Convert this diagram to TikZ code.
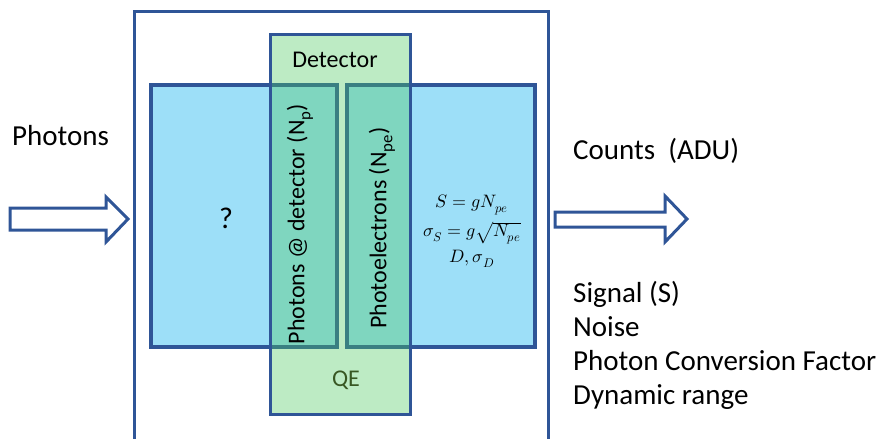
\documentclass[tikz,border=0pt]{standalone}
\usepackage{fontspec}
\usepackage{unicode-math}
\setmainfont{Carlito}
\setmathfont{Latin Modern Math}
\definecolor{frameblue}{RGB}{47,85,151}
\definecolor{boxblue}{RGB}{157,223,248}
\definecolor{detgreen}{RGB}{77,201,96}
\definecolor{qegreen}{RGB}{56,87,35}
\tikzset{
  bluebox/.style={draw=frameblue, line width=4pt, fill=boxblue, inner sep=0pt},
  detbox/.style={draw=frameblue, line width=3pt, fill=detgreen, fill opacity=0.37, draw opacity=1, text opacity=1, inner sep=0pt},
  blockarrow/.style={draw=frameblue, line width=3pt, fill=white, line join=miter},
  bigtxt/.style={font=\fontsize{29}{34}\selectfont, inner sep=0pt},
  midtxt/.style={font=\fontsize{24}{28}\selectfont, inner sep=0pt},
  mathtxt/.style={font=\fontsize{18}{22}\selectfont, inner sep=0pt}
}
\begin{document}
\begin{tikzpicture}[x=1pt,y=-1pt]
\useasboundingbox (0,0) rectangle (884,439);
% outer frame
\draw[frameblue, line width=3pt] (134,450) -- (134,11) -- (548,11) -- (548,450);
% blue boxes
\node[bluebox, minimum width=186pt, minimum height=262pt] (left) at (244,216) {};
\node[bluebox, minimum width=188pt, minimum height=262pt] (right) at (441,216) {};
% detector
\node[detbox, minimum width=140pt, minimum height=380pt] (det) at (340,224) {};
% texts
\node[midtxt, anchor=center] (dettxt) at (335,60) {Detector};
\node[midtxt, anchor=center, text=qegreen] (qe) at (346,380) {QE};
\node[font=\fontsize{30}{34}\selectfont, inner sep=0pt] (q) at (226,218) {?};
\node[midtxt, rotate=90] (np) at (300,224) {Photons @ detector (N\textsubscript{p})};
\node[midtxt, rotate=90] (npe) at (382,228) {Photoelectrons (N\textsubscript{pe})};
\node[mathtxt] (f1) at (472,205) {$S = gN_{pe}$};
\node[mathtxt] (f2) at (472,233) {$\sigma_S = g\sqrt{N_{pe}}$};
\node[mathtxt] (f3) at (472,259) {$D,\sigma_D$};
% left side
\node[bigtxt, anchor=base west] (photons) at (12,145) {Photons};
\draw[blockarrow] (10,208) -- (106,208) -- (106,197) -- (128,219) -- (106,242) -- (106,230) -- (10,230) -- cycle;
% right side
\node[bigtxt, anchor=base west] (counts) at (573,159) {Counts\ \ (ADU)};
\draw[blockarrow] (555,212) -- (665,212) -- (665,196) -- (687,219) -- (665,242) -- (665,227) -- (555,227) -- cycle;
\node[bigtxt, anchor=base west] (sig) at (573,302) {Signal (S)};
\node[bigtxt, anchor=base west] (noise) at (573,336) {Noise};
\node[bigtxt, anchor=base west] (pcf) at (573,370) {Photon Conversion Factor};
\node[bigtxt, anchor=base west] (dyn) at (573,404) {Dynamic range};
\end{tikzpicture}
\end{document}
